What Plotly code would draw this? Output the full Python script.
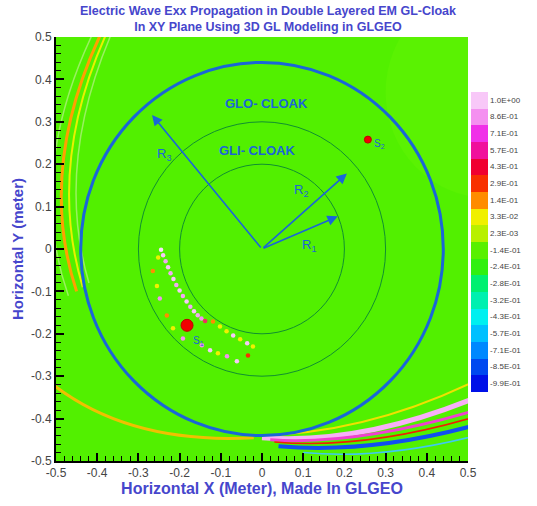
import plotly.graph_objects as go

# ---------------- data ----------------
# colour legend (top to bottom)
legend_labels = ["1.0E+00", "8.6E-01", "7.1E-01", "5.7E-01", "4.3E-01", "2.9E-01",
                 "1.4E-01", "3.3E-02", "2.3E-03", "-1.4E-01", "-2.4E-01", "-2.8E-01",
                 "-3.2E-01", "-4.3E-01", "-5.7E-01", "-7.1E-01", "-8.5E-01", "-9.9E-01"]
legend_colors = ["#f8c8f8", "#f490f0", "#f030e8", "#f0109c", "#f00030", "#f83000",
                 "#ff8c00", "#f0f000", "#b8f000", "#58f000", "#30f010", "#00f070",
                 "#00f0b0", "#00f0f0", "#00c0ff", "#0088ff", "#0048f0", "#0010e8"]

tick_vals = [-0.5, -0.4, -0.3, -0.2, -0.1, 0, 0.1, 0.2, 0.3, 0.4, 0.5]
tick_text = ["-0.5", "-0.4", "-0.3", "-0.2", "-0.1", "0", "0.1", "0.2", "0.3", "0.4", "0.5"]

# cloak geometry (metres)
glo_radius = 0.44          # outer cloak boundary
gli_radii = [0.20, 0.30]   # inner cloak layers

# radius vectors: tips of R1, R2, R3 from the origin
r_names = ["R<sub>1</sub>", "R<sub>2</sub>", "R<sub>3</sub>"]
r_tip_x = [0.184, 0.206, -0.267]
r_tip_y = [0.077, 0.178, 0.316]
r_lab_x = [0.115, 0.095, -0.238]
r_lab_y = [0.008, 0.138, 0.222]

# point sources
src_names = ["S<sub>1</sub>", "S<sub>2</sub>"]
src_x = [-0.182, 0.257]
src_y = [-0.180, 0.258]
src_size = [12, 7]
src_lab_x = [-0.155, 0.285]
src_lab_y = [-0.218, 0.248]

# wave fronts outside the cloak, as quadratic curves (start, control, end)
front_x0 = [-0.385, -0.372, -0.520, -0.020, 0.000, 0.020, 0.030, 0.040, 0.100]
front_y0 = [0.520, 0.520, -0.310, -0.440, -0.445, -0.450, -0.455, -0.465, -0.480]
front_cx = [-0.549, -0.525, -0.330, 0.250, 0.240, 0.230, 0.245, 0.260, 0.290]
front_cy = [0.190, 0.200, -0.462, -0.438, -0.462, -0.464, -0.474, -0.484, -0.498]
front_x1 = [-0.450, -0.435, -0.020, 0.520, 0.520, 0.520, 0.520, 0.520, 0.520]
front_y1 = [-0.100, -0.090, -0.445, -0.310, -0.350, -0.380, -0.395, -0.415, -0.440]
front_col = ["#ffa000", "#e8f000", "#f0c000", "#f0e000", "#f8b0f8", "#f040d0",
             "#f02000", "#1050f0", "#40c8f0"]
front_w = [3, 2, 3, 2, 5, 3, 1.5, 4, 1.5]

# faint secondary ripples next to the left front
ripple_x0 = [-0.360, -0.405]
ripple_y0 = [0.520, 0.520]
ripple_cx = [-0.505, -0.575]
ripple_cy = [0.200, 0.180]
ripple_x1 = [-0.420, -0.470]
ripple_y1 = [-0.080, -0.110]

# field samples scattered along the inner layer
dot_x = [-0.245, -0.240, -0.234, -0.228, -0.222, -0.215, -0.208, -0.200, -0.192, -0.183, -0.174,
         -0.165, -0.156, -0.147, -0.138,
         -0.119, -0.102, -0.086, -0.070, -0.053, -0.036, -0.022, -0.034,
         -0.061, -0.085, -0.107, -0.126, -0.146,
         -0.265, -0.255, -0.248, -0.231, -0.216, -0.192, -0.252]
dot_y = [-0.002, -0.015, -0.029, -0.043, -0.057, -0.071, -0.085, -0.098, -0.111, -0.124, -0.136,
         -0.147, -0.156, -0.164, -0.170,
         -0.171, -0.183, -0.194, -0.204, -0.213, -0.222, -0.230, -0.251,
         -0.265, -0.253, -0.246, -0.239, -0.227,
         -0.052, -0.087, -0.117, -0.157, -0.187, -0.211, -0.020]
dot_col = ["#fae0fa", "#f8c8f8", "#f4a8f4", "#f8c8f8", "#f4a8f4", "#f8c8f8", "#f4a8f4",
           "#f8c8f8", "#f4a8f4", "#f8c8f8", "#f4a8f4", "#f8c8f8", "#f4a8f4", "#f490f0", "#f03060",
           "#ff8c00", "#f0f000", "#f0f000", "#f8c8f8", "#f0f000", "#f8c8f8", "#f0f000", "#f83000",
           "#f8c8f8", "#f490f0", "#f0f000", "#f8c8f8", "#f490f0",
           "#ff8c00", "#f0f000", "#f490f0", "#ff8c00", "#f0f000", "#f490f0", "#f0f000"]

# ---------------- figure ----------------
FIELD_GREEN = "#52f000"
BLUE = "#1a66d8"
TITLE_BLUE = "#4646cc"
FONT = "Liberation Sans, Arial, sans-serif"

fig = go.Figure()


def qpath(x0, y0, cx, cy, x1, y1):
    return f"M {x0},{y0} Q {cx},{cy} {x1},{y1}"


shapes = []
# slightly brighter patch in the upper right corner
shapes.append(dict(type="circle", xref="x", yref="y", x0=0.30, x1=0.80, y0=0.12, y1=0.62,
                   fillcolor="#5af202", line=dict(width=0), layer="below"))
# faint ripples
for a in zip(ripple_x0, ripple_y0, ripple_cx, ripple_cy, ripple_x1, ripple_y1):
    shapes.append(dict(type="path", xref="x", yref="y", path=qpath(*a),
                       line=dict(color="#9af060", width=1.5), layer="below"))
# wave fronts
for x0, y0, cx, cy, x1, y1, c, w in zip(front_x0, front_y0, front_cx, front_cy,
                                         front_x1, front_y1, front_col, front_w):
    shapes.append(dict(type="path", xref="x", yref="y", path=qpath(x0, y0, cx, cy, x1, y1),
                       line=dict(color=c, width=w), layer="below"))
# inner layers
for r in gli_radii:
    shapes.append(dict(type="circle", xref="x", yref="y", x0=-r, x1=r, y0=-r, y1=r,
                       line=dict(color="#109030", width=1), layer="below"))
# outer boundary
shapes.append(dict(type="circle", xref="x", yref="y", x0=-glo_radius, x1=glo_radius,
                   y0=-glo_radius, y1=glo_radius, line=dict(color=BLUE, width=3), layer="below"))

# sample dots
fig.add_trace(go.Scatter(x=dot_x, y=dot_y, mode="markers", hoverinfo="skip", showlegend=False,
                         marker=dict(size=4.5, color=dot_col, opacity=1, line=dict(width=0))))
# sources
fig.add_trace(go.Scatter(x=src_x, y=src_y, mode="markers", hoverinfo="skip", showlegend=False,
                         marker=dict(size=src_size, color="#f00000", opacity=1,
                                     line=dict(color="#c00000", width=1))))

# colour legend via a hidden trace
n = len(legend_colors)
cscale = []
for i, c in enumerate(reversed(legend_colors)):
    cscale.append([i / n, c])
    cscale.append([(i + 1) / n, c])
fig.add_trace(go.Scatter(
    x=[None], y=[None], mode="markers", hoverinfo="skip", showlegend=False,
    marker=dict(color=[0], cmin=0, cmax=n, colorscale=cscale, showscale=True,
                colorbar=dict(
                    x=1.007, xanchor="left", xpad=0, ypad=0,
                    y=0.5176, yanchor="middle", len=300, lenmode="pixels",
                    thickness=17, outlinewidth=0,
                    tickvals=[n - i - 0.5 for i in range(n)], ticktext=legend_labels,
                    ticks="", tickfont=dict(size=8, color="#444", family=FONT)))))

annotations = []
# radius arrows
for nm, tx, ty, lx, ly in zip(r_names, r_tip_x, r_tip_y, r_lab_x, r_lab_y):
    annotations.append(dict(x=tx, y=ty, ax=0, ay=0, xref="x", yref="y", axref="x", ayref="y",
                            showarrow=True, arrowhead=2, arrowsize=1.3, arrowwidth=1.6,
                            arrowcolor=BLUE, text=""))
    annotations.append(dict(x=lx, y=ly, xref="x", yref="y", showarrow=False, text=nm,
                            font=dict(size=13, color=BLUE, family=FONT)))
# source labels
for nm, lx, ly in zip(src_names, src_lab_x, src_lab_y):
    annotations.append(dict(x=lx, y=ly, xref="x", yref="y", showarrow=False, text=nm,
                            font=dict(size=10, color=BLUE, family=FONT)))
# layer names
annotations.append(dict(x=0.012, y=0.344, xref="x", yref="y", showarrow=False,
                        text="<b>GLO- CLOAK</b>", font=dict(size=13, color=BLUE, family=FONT)))
annotations.append(dict(x=-0.012, y=0.232, xref="x", yref="y", showarrow=False,
                        text="<b>GLI- CLOAK</b>", font=dict(size=13, color=BLUE, family=FONT)))
# title
annotations.append(dict(x=(268 - 56) / 412, y=(464 - 19) / 427, xref="paper", yref="paper",
                        yanchor="middle", showarrow=False,
                        text="<b>Electric Wave Exx Propagation in Double Layered EM GL-Cloak<br>"
                             "In XY Plane Using 3D GL Modeling in GLGEO</b>",
                        font=dict(size=12.5, color=TITLE_BLUE, family=FONT)))

axis_common = dict(range=[-0.5, 0.5], tickvals=tick_vals, ticktext=tick_text,
                   ticks="inside", ticklen=8, tickwidth=1.5, tickcolor="black",
                   showline=True, linecolor="black", linewidth=2, mirror=False,
                   showgrid=False, zeroline=False,
                   tickfont=dict(size=12, color="#444", family=FONT),
                   minor=dict(dtick=0.02, tick0=0, ticks="inside", ticklen=5,
                              tickwidth=1.2, tickcolor="black", showgrid=False))

fig.update_layout(
    width=537, height=506,
    margin=dict(l=56, r=69, t=37, b=42, pad=0),
    paper_bgcolor="white", plot_bgcolor=FIELD_GREEN,
    shapes=shapes, annotations=annotations,
    xaxis=dict(**axis_common,
               title=dict(text="<b>Horizontal X (Meter), Made In GLGEO</b>", standoff=2,
                          font=dict(size=16, color=TITLE_BLUE, family=FONT))),
    yaxis=dict(**axis_common,
               title=dict(text="<b>Horizontal Y (meter)</b>", standoff=4,
                          font=dict(size=15, color=TITLE_BLUE, family=FONT))),
)

fig.write_html("out.html")
